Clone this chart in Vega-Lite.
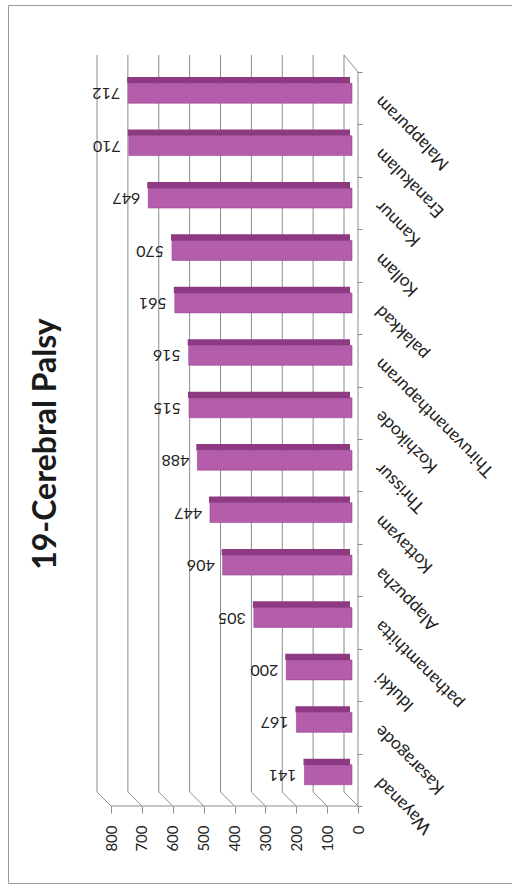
{
  "$schema": "https://vega.github.io/schema/vega-lite/v6.json",
  "width": 504,
  "height": 878,
  "autosize": "none",
  "padding": {"left": 8, "top": 5, "right": 0, "bottom": 6},
  "background": "white",
  "config": {
    "view": {"stroke": "#9a9a9a", "strokeWidth": 1},
    "font": "Lato"
  },
  "title": {
    "text": "19-Cerebral Palsy",
    "orient": "left",
    "anchor": "middle",
    "frame": "group",
    "offset": -55,
    "fontSize": 32,
    "font": "Lato",
    "fontWeight": "bold",
    "color": "#1a1a1a"
  },
  "datasets": {
    "districts": [
      {"district": "Malappuram", "cases": 712},
      {"district": "Eranakulam", "cases": 710},
      {"district": "Kannur", "cases": 647},
      {"district": "Kollam", "cases": 570},
      {"district": "palakkad", "cases": 561},
      {"district": "Thiruvananthapuram", "cases": 516},
      {"district": "Kozhikode", "cases": 515},
      {"district": "Thrissur", "cases": 488},
      {"district": "Kottayam", "cases": 447},
      {"district": "Alappuzha", "cases": 406},
      {"district": "pathanamthitta", "cases": 305},
      {"district": "Idukki", "cases": 200},
      {"district": "Kasaragode", "cases": 167},
      {"district": "Wayanad", "cases": 141}
    ],
    "ticks": [
      {"tick": 0}, {"tick": 100}, {"tick": 200}, {"tick": 300}, {"tick": 400},
      {"tick": 500}, {"tick": 600}, {"tick": 700}, {"tick": 800}
    ]
  },
  "layer": [
    {
      "data": {"name": "ticks"},
      "mark": {"type": "rule", "color": "#8c8c8c", "strokeWidth": 1, "yOffset": -17, "y2Offset": -14},
      "encoding": {
        "x": {"field": "tick", "type": "quantitative", "scale": {"domain": [-544.1, 1088.3], "reverse": true, "nice": false, "zero": false},
              "axis": {"orient": "bottom", "offset": -77, "values": [0,100,200,300,400,500,600,700,800], "domain": false, "grid": false,
                       "tickSize": 7, "tickColor": "#8c8c8c", "tickOffset": 14, "labelAngle": -90, "labelAlign": "right", "labelBaseline": "middle",
                       "labelPadding": 12, "labelFontSize": 15, "labelColor": "#222222", "labelFont": "Lato", "title": null}},
        "y": {"datum": "Malappuram", "type": "nominal", "bandPosition": 0},
        "y2": {"datum": "Wayanad", "bandPosition": 1}
      }
    },
    {
      "data": {"name": "ticks"},
      "mark": {"type": "rule", "color": "#8c8c8c", "strokeWidth": 1, "yOffset": -14, "x2Offset": 14},
      "encoding": {
        "x": {"field": "tick", "type": "quantitative"},
        "x2": {"field": "tick"},
        "y": {"datum": "Wayanad", "type": "nominal", "bandPosition": 1},
        "y2": {"datum": "Wayanad", "bandPosition": 1}
      }
    },
    {
      "data": {"values": [{"a": 1}]},
      "mark": {"type": "rule", "color": "#8c8c8c", "strokeWidth": 1, "xOffset": 14, "x2Offset": 14},
      "encoding": {
        "x": {"datum": 0, "type": "quantitative"},
        "x2": {"datum": 800},
        "y": {"datum": "Wayanad", "type": "nominal", "bandPosition": 1}
      }
    },
    {
      "data": {"values": [{"a": 1}]},
      "mark": {"type": "rule", "color": "#8c8c8c", "strokeWidth": 1, "xOffset": 14, "x2Offset": 14},
      "encoding": {
        "x": {"datum": 0, "type": "quantitative"},
        "y": {"datum": "Malappuram", "type": "nominal", "bandPosition": 0},
        "y2": {"datum": "Wayanad", "bandPosition": 1}
      }
    },
    {
      "data": {"values": [{"a": 1}]},
      "mark": {"type": "rule", "color": "#8c8c8c", "strokeWidth": 1, "yOffset": -17, "x2Offset": 14},
      "encoding": {
        "x": {"datum": 0, "type": "quantitative"},
        "x2": {"datum": 0},
        "y": {"datum": "Malappuram", "type": "nominal", "bandPosition": 0},
        "y2": {"datum": "Malappuram", "bandPosition": 0}
      }
    },
    {
      "data": {"name": "districts"},
      "mark": {"type": "bar", "color": "#b35dab", "stroke": "#9a4592", "strokeWidth": 0.6, "height": {"band": 0.38}, "yOffset": -5, "xOffset": 4, "x2Offset": 8},
      "encoding": {
        "y": {"field": "district", "type": "nominal",
              "scale": {"domain": ["Malappuram", "Eranakulam", "Kannur", "Kollam", "palakkad", "Thiruvananthapuram", "Kozhikode", "Thrissur", "Kottayam", "Alappuzha", "pathanamthitta", "Idukki", "Kasaragode", "Wayanad"],
                        "paddingInner": 0, "paddingOuter": 0, "range": [67, 801]},
              "axis": {"orient": "right", "offset": -155, "domain": false, "grid": false, "tickBand": "extent", "tickSize": 5, "tickColor": "#8c8c8c",
                       "labelAngle": 225, "labelAlign": "right", "labelBaseline": "middle", "labelPadding": 16, "labelFontSize": 17.5,
                       "labelColor": "#222222", "labelFont": "Lato", "title": null}},
        "x": {"field": "cases", "type": "quantitative"},
        "x2": {"datum": 0}
      }
    },
    {
      "data": {"name": "districts"},
      "mark": {"type": "bar", "color": "#8d3a83", "height": {"band": 0.12}, "yOffset": -18, "xOffset": 3, "x2Offset": 6},
      "encoding": {
        "y": {"field": "district", "type": "nominal"},
        "x": {"field": "cases", "type": "quantitative"},
        "x2": {"datum": 0}
      }
    },
    {
      "data": {"name": "districts"},
      "mark": {"type": "text", "angle": 180, "align": "left", "baseline": "middle", "dx": 4, "yOffset": -5, "fontSize": 16, "font": "Lato", "color": "#222222"},
      "encoding": {
        "y": {"field": "district", "type": "nominal"},
        "x": {"field": "cases", "type": "quantitative"},
        "text": {"field": "cases", "type": "quantitative"}
      }
    }
  ]
}
